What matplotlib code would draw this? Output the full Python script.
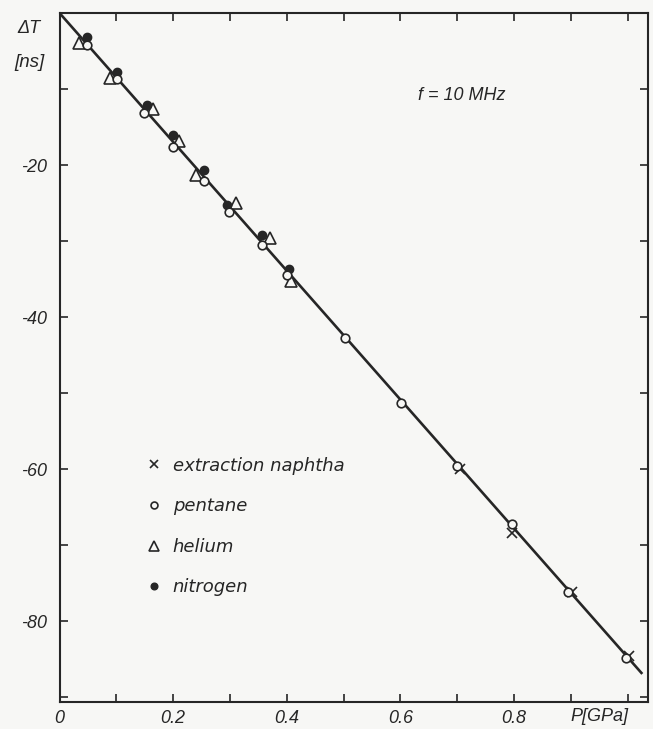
import numpy as np
import matplotlib
matplotlib.use('Agg')
import matplotlib.pyplot as plt

# values: pressure P [GPa] vs delta T [ns]
naphtha_p = [0.705, 0.797, 0.902, 1.002]
naphtha_dt = [-59.9, -68.4, -76.1, -84.6]

pentane_p = [0.048, 0.101, 0.148, 0.200, 0.254, 0.299, 0.356, 0.400,
             0.502, 0.602, 0.700, 0.797, 0.896, 0.998]
pentane_dt = [-4.2, -8.6, -13.1, -17.6, -22.1, -26.2, -30.5, -34.5,
              -42.7, -51.3, -59.5, -67.2, -76.1, -84.8]

helium_p = [0.035, 0.088, 0.164, 0.210, 0.240, 0.311, 0.371, 0.407]
helium_dt = [-3.95, -8.5, -12.6, -16.8, -21.3, -25.0, -29.6, -35.2]

nitrogen_p = [0.048, 0.101, 0.154, 0.200, 0.254, 0.294, 0.357, 0.404]
nitrogen_dt = [-3.2, -7.8, -12.1, -16.0, -20.6, -25.2, -29.2, -33.6]

# fitted straight line
fit_slope = -84.7
fit_p = [0.0, 1.026]

x_ticks = [0, 0.1, 0.2, 0.3, 0.4, 0.5, 0.6, 0.7, 0.8, 0.9, 1.0]
x_labels = ['0', '', '0.2', '', '0.4', '', '0.6', '', '0.8', '', '']
y_ticks = [0, -10, -20, -30, -40, -50, -60, -70, -80, -90]
y_labels = ['', '', '-20', '', '-40', '', '-60', '', '-80', '']

ink = '#262626'
bg = '#f7f7f5'
plt.rcParams['font.family'] = ['Liberation Sans', 'DejaVu Sans']
plt.rcParams['font.style'] = 'italic'

fig = plt.figure(figsize=(6.53, 7.29), dpi=100, facecolor=bg)
ax = fig.add_axes([0.0913, 0.037, 0.9010, 0.945], facecolor=bg)

ax.plot(fit_p, [fit_slope * p for p in fit_p], color=ink, lw=1.9, zorder=2,
        solid_capstyle='butt')

ax.plot(naphtha_p, naphtha_dt, 'x', color=ink, ms=6.5, mew=1.2, ls='none',
        zorder=3, label='extraction naphtha')
ax.plot(pentane_p, pentane_dt, 'o', color=ink, mfc=bg, ms=6.2, mew=1.2,
        ls='none', zorder=4, label='pentane')
ax.plot(helium_p, helium_dt, '^', color=ink, mfc=bg, ms=9, mew=1.2,
        ls='none', zorder=3, label='helium')
ax.plot(nitrogen_p, nitrogen_dt, 'o', color=ink, mfc=ink, ms=6, ls='none',
        zorder=3, label='nitrogen')

ax.set_xlim(0, 1.036)
ax.set_ylim(-90.6, 0)
ax.set_xticks(x_ticks)
ax.set_xticklabels(x_labels)
ax.set_yticks(y_ticks)
ax.set_yticklabels(y_labels)
ax.tick_params(direction='in', length=6, width=1.2, colors=ink,
               labelsize=13, top=True, right=True)
ax.tick_params(axis='x', pad=6)
ax.tick_params(axis='y', pad=9)
for s in ax.spines.values():
    s.set_linewidth(1.5)
    s.set_color(ink)

ax.annotate('P[GPa]', xy=(0.951, 0), xycoords=('data', 'axes fraction'),
            xytext=(0, -10.5), textcoords='offset points', ha='center',
            va='center', fontsize=13, color=ink, annotation_clip=False)
ax.text(-0.052, 0.977, '\u0394T', transform=ax.transAxes, ha='center',
        va='center', fontsize=13, color=ink)
ax.text(-0.052, 0.929, '[ns]', transform=ax.transAxes, ha='center',
        va='center', fontsize=13.5, color=ink)
ax.text(0.684, 0.881, 'f = 10 MHz', transform=ax.transAxes, ha='center',
        va='center', fontsize=13, color=ink)

leg = ax.legend(loc='upper left', bbox_to_anchor=(0.146, 0.356), frameon=False,
                prop={'family': 'DejaVu Sans', 'style': 'oblique', 'size': 13},
                handlelength=0.95, handletextpad=0.55,
                labelspacing=1.25, borderpad=0, borderaxespad=0,
                markerscale=0.8)
for t in leg.get_texts():
    t.set_color(ink)

fig.savefig('out.png', dpi=100, facecolor=bg)
